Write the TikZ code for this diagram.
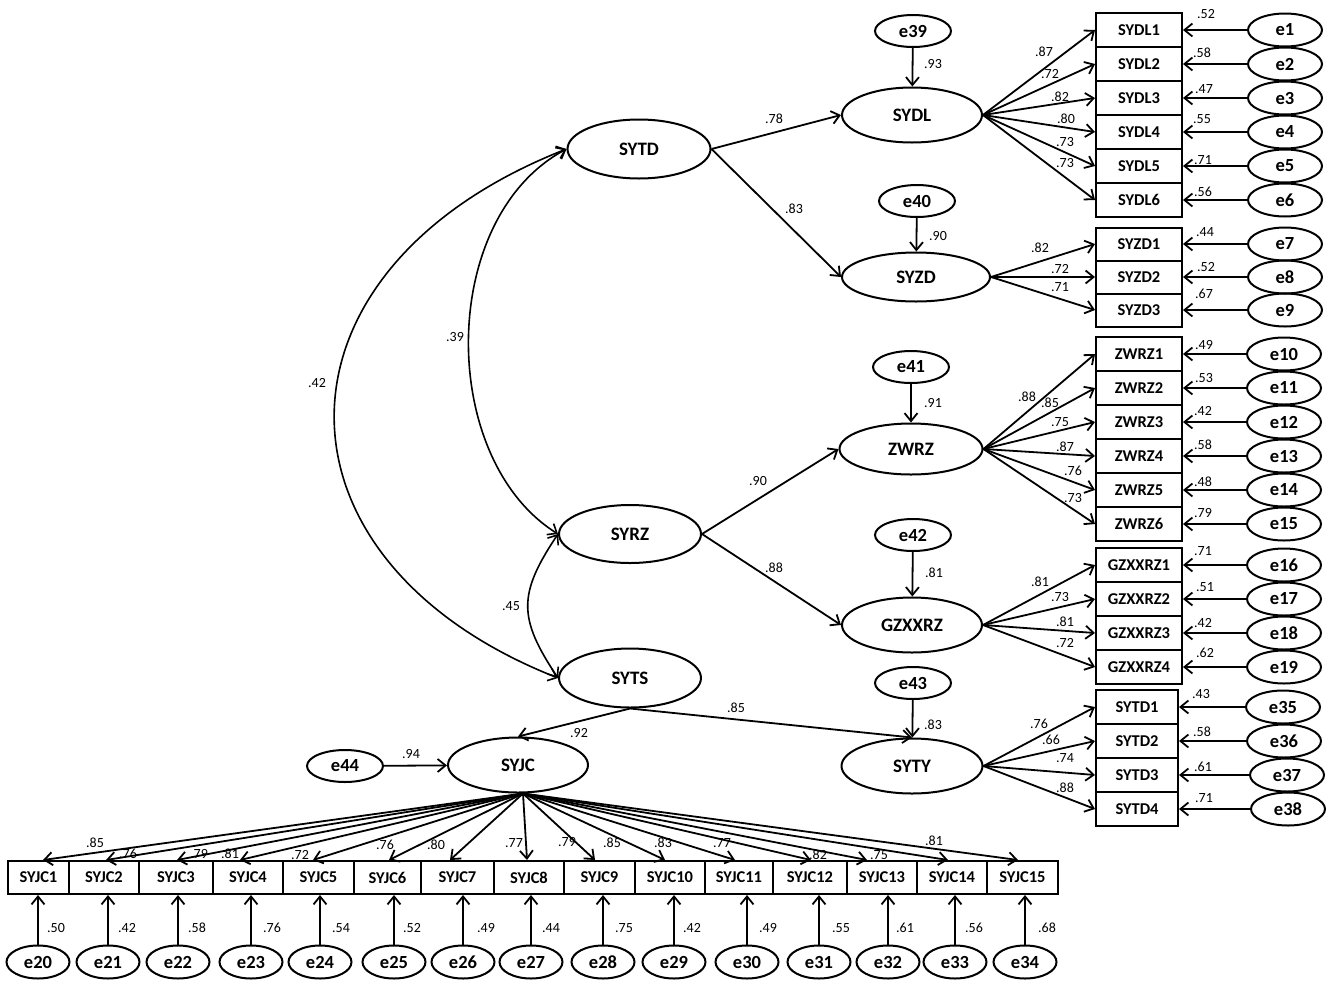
\documentclass[tikz,border=0pt]{standalone}
\usepackage{fontspec}
\setmainfont{Carlito}
\usetikzlibrary{shapes.geometric,arrows.meta,calc}
\begin{document}
\begin{tikzpicture}[x=1pt,y=-1pt,
  lat/.style={ellipse, draw, line width=2pt, minimum width=140pt, minimum height=55pt, inner sep=0pt, font=\bfseries\fontsize{19}{19}\selectfont},
  err/.style={ellipse, draw, line width=2pt, minimum width=74pt, minimum height=33pt, inner sep=0pt, font=\bfseries\fontsize{18.5}{18.5}\selectfont},
  lerr/.style={err, minimum width=76pt, minimum height=32pt},
  berr/.style={err, minimum width=63pt, minimum height=33pt},
  ind/.style={rectangle, draw, line width=2pt, minimum width=86pt, minimum height=34pt, inner sep=0pt, font=\bfseries\fontsize{16.5}{16.5}\selectfont},
  arr/.style={-{Straight Barb[length=8pt,width=13pt]}, line width=1.8pt},
  cov/.style={{Straight Barb[length=8pt,width=13pt]}-{Straight Barb[length=8pt,width=13pt]}, line width=1.6pt},
  coef/.style={inner sep=0pt, font=\fontsize{14}{14}\selectfont}]
\useasboundingbox (0,0) rectangle (1339,991);
\fill[white] (0,0) rectangle (1339,991);

% ---------- latent variables ----------
\node[lat, minimum width=143pt, minimum height=59pt] (SYTD) at (639,149) {SYTD};
\node[lat] (SYDL) at (912,115) {SYDL};
\node[lat, minimum width=148pt, minimum height=49pt] (SYZD) at (916,277) {SYZD};
\node[lat, minimum width=143pt, minimum height=51pt] (ZWRZ) at (911,449) {ZWRZ};
\node[lat] (GZXXRZ) at (912,625) {GZXXRZ};
\node[lat, minimum width=142pt, minimum height=58pt] (SYRZ) at (630,534) {SYRZ};
\node[lat, minimum width=142pt, minimum height=59pt] (SYTS) at (630,678) {SYTS};
\node[lat] (SYJC) at (518,765) {SYJC};
\node[lat, minimum width=141pt] (SYTY) at (912,766) {SYTY};

% disturbances
\node[lerr] (e39) at (913,31) {e39};
\node[lerr] (e40) at (917,201) {e40};
\node[lerr] (e41) at (911,367) {e41};
\node[lerr] (e42) at (913,535) {e42};
\node[lerr] (e43) at (913,683) {e43};
\node[lerr] (e44) at (345,766) {e44};

\draw[arr] (e39) -- (SYDL);   \node[coef] (c39) at (933,64) {.93};
\draw[arr] (e40) -- (SYZD);   \node[coef] (c40) at (938,236) {.90};
\draw[arr] (e41) -- (ZWRZ);   \node[coef] (c41) at (933,403) {.91};
\draw[arr] (e42) -- (GZXXRZ); \node[coef] (c42) at (934,573) {.81};
\draw[arr] (e43) -- (SYTY);   \node[coef] (c43) at (933,725) {.83};
\draw[arr] (e44) -- (SYJC);   \node[coef] (c44) at (411,754) {.94};

% structural paths
\draw[arr] (SYTD.east) -- (SYDL.west);   \node[coef] (p1) at (774,119) {.78};
\draw[arr] (SYTD.east) -- (SYZD.west);   \node[coef] (p2) at (794,209) {.83};
\draw[arr] (SYRZ.east) -- (ZWRZ.west);   \node[coef] (p3) at (758,481) {.90};
\draw[arr] (SYRZ.east) -- (GZXXRZ.west); \node[coef] (p4) at (774,568) {.88};
\draw[arr] (SYTS.south) -- (SYJC.north); \node[coef] (p5) at (579,733) {.92};
\draw[arr] (SYTS.south) -- (SYTY.north); \node[coef] (p6) at (736,708) {.85};

% covariances
\draw[cov] (SYTD.west) .. controls ($(SYTD.west)+(-308,121)$) and ($(SYTS.west)+(-299,-118)$) .. (SYTS.west);
\node[coef] (k1) at (317,383) {.42};
\draw[cov] (SYTD.west) .. controls ($(SYTD.west)+(-129,69)$) and ($(SYRZ.west)+(-120,-75)$) .. (SYRZ.west);
\node[coef] (k2) at (455,337) {.39};
\draw[cov] (SYRZ.west) .. controls ($(SYRZ.west)+(-40,60)$) and ($(SYTS.west)+(-40,-60)$) .. (SYTS.west);
\node[coef] (k3) at (511,606) {.45};

% ---------- SYDL ----------
\foreach \i/\y/\la/\lx/\ly/\ra/\rx/\ry in {
  1/30/.87/1044/52/.52/1206/14,
  2/64/.72/1050/74/.58/1202/53,
  3/98/.82/1060/97/.47/1204/89,
  4/132/.80/1066/119/.55/1202/119,
  5/166/.73/1065/142/.71/1203/160,
  6/200/.73/1065/163/.56/1203/192}{
  \node[ind] (SYDL\i) at (1139,\y) {SYDL\i};
  \node[err] (e\i) at (1285,\y) {e\i};
  \draw[arr] (SYDL.east) -- (SYDL\i.west);
  \draw[arr] (e\i.west) -- (SYDL\i.east);
  \node[coef] (la-SYDL\i) at (\lx,\ly) {\la};
  \node[coef] (ra-SYDL\i) at (\rx,\ry) {\ra};
}
% ---------- SYZD ----------
\foreach \i/\e/\y/\la/\lx/\ly/\ra/\rx/\ry in {
  1/7/244/.82/1040/248/.44/1205/232,
  2/8/277/.72/1060/269/.52/1206/267,
  3/9/310/.71/1060/287/.67/1204/294}{
  \node[ind, minimum height=33pt] (SYZD\i) at (1139,\y) {SYZD\i};
  \node[err] (e\e) at (1285,\y) {e\e};
  \draw[arr] (SYZD.east) -- (SYZD\i.west);
  \draw[arr] (e\e.west) -- (SYZD\i.east);
  \node[coef] (la-SYZD\i) at (\lx,\ly) {\la};
  \node[coef] (ra-SYZD\i) at (\rx,\ry) {\ra};
}
% ---------- ZWRZ ----------
\foreach \i/\e/\y/\la/\lx/\ly/\ra/\rx/\ry in {
  1/10/354/.88/1027/397/.49/1204/345,
  2/11/388/.85/1050/403/.53/1204/378,
  3/12/422/.75/1060/422/.42/1203/411,
  4/13/456/.87/1065/447/.58/1203/445,
  5/14/490/.76/1073/471/.48/1203/482,
  6/15/524/.73/1073/498/.79/1203/513}{
  \node[ind] (ZWRZ\i) at (1139,\y) {ZWRZ\i};
  \node[err] (e\e) at (1284,\y) {e\e};
  \draw[arr] (ZWRZ.east) -- (ZWRZ\i.west);
  \draw[arr] (e\e.west) -- (ZWRZ\i.east);
  \node[coef] (la-ZWRZ\i) at (\lx,\ly) {\la};
  \node[coef] (ra-ZWRZ\i) at (\rx,\ry) {\ra};
}
% ---------- GZXXRZ ----------
\foreach \i/\e/\y/\la/\lx/\ly/\ra/\rx/\ry in {
  1/16/565/.81/1040/582/.71/1203/551,
  2/17/599/.73/1060/597/.51/1205/587,
  3/18/633/.81/1065/622/.42/1203/623,
  4/19/667/.72/1065/643/.62/1205/653}{
  \node[ind] (GZXXRZ\i) at (1139,\y) {GZXXRZ\i};
  \node[err] (e\e) at (1284,\y) {e\e};
  \draw[arr] (GZXXRZ.east) -- (GZXXRZ\i.west);
  \draw[arr] (e\e.west) -- (GZXXRZ\i.east);
  \node[coef] (la-GZXXRZ\i) at (\lx,\ly) {\la};
  \node[coef] (ra-GZXXRZ\i) at (\rx,\ry) {\ra};
}
% ---------- SYTY (indicators SYTD1-4) ----------
\foreach \i/\e/\y/\ex/\la/\lx/\ly/\ra/\rx/\ry in {
  1/35/707/1283/.76/1039/724/.43/1201/694,
  2/36/741/1284/.66/1051/740/.58/1202/732,
  3/37/775/1287/.74/1065/758/.61/1203/767,
  4/38/809/1288/.88/1065/788/.71/1204/798}{
  \node[ind, minimum width=82pt, minimum height=34pt] (SYTD\i) at (1137,\y) {SYTD\i};
  \node[err] (e\e) at (\ex,\y) {e\e};
  \draw[arr] (SYTY.east) -- (SYTD\i.west);
  \draw[arr] (e\e.west) -- (SYTD\i.east);
  \node[coef] (la-SYTD\i) at (\lx,\ly) {\la};
  \node[coef] (ra-SYTD\i) at (\rx,\ry) {\ra};
}
% ---------- SYJC ----------
\coordinate (jcsrc) at ($(SYJC.south)+(5,0)$);
\foreach \i/\e/\cx/\w/\dx/\ex/\la/\lx/\ly/\ra/\rx in {
  1/20/38.5/61/4.5/38/.85/95/843/.50/56,
  2/21/104/70/2/108/.76/128/854/.42/127,
  3/22/176/74/1/178/.79/199/854/.58/197,
  4/23/248/70/-8/251/.81/230/854/.76/272,
  5/24/318.5/71/-5.5/320/.72/300/855/.54/341,
  6/25/387.5/67/1.5/394/.76/385/845/.52/412,
  7/26/457.5/73/-7.5/463/.80/436/845/.49/486,
  8/27/529/70/-2/531/.77/514/843/.44/551,
  9/28/599.5/71/-4.5/603/.79/567/842/.75/624,
  10/29/670/70/-5/674/.85/612/843/.42/692,
  11/30/739/68/-4/747/.83/663/843/.49/768,
  12/31/810/74/1/819/.77/722/843/.55/841,
  13/32/882/70/-15/888/.82/818/855/.61/905,
  14/33/952/70/-4/955/.75/879/855/.56/974,
  15/34/1022.5/71/-4.5/1025/.81/934/841/.68/1047}{
  \node[ind, minimum width=\w pt, minimum height=33pt] (SYJC\i) at (\cx,877.5) {SYJC\i};
  \node[berr] (e\e) at (\ex,962) {e\e};
  \path (SYJC\i.north) ++(\dx,0) coordinate (t\i);
  \draw[arr] (jcsrc) -- (t\i);
  \draw[arr] (e\e.north) -- (e\e.north |- SYJC\i.south);
  \node[coef] (la-SYJC\i) at (\lx,\ly) {\la};
  \node[coef] (ra-SYJC\i) at (\rx,928) {\ra};
}
\end{tikzpicture}
\end{document}
